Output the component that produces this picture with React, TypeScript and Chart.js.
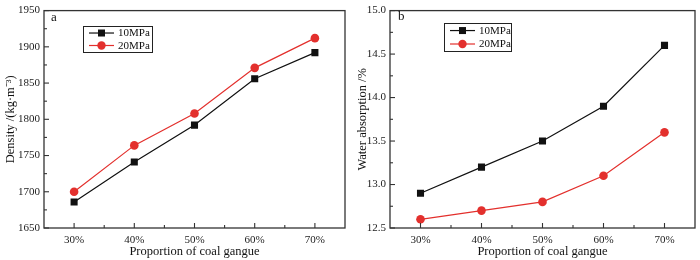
import React, { useEffect, useRef } from "react";
import { Chart, registerables } from "chart.js";

Chart.register(...registerables);

const categories = ["30%", "40%", "50%", "60%", "70%"];
const seriesNames = ["10MPa", "20MPa"];
const density10 = [1686, 1741, 1792, 1856, 1892];
const density20 = [1700, 1764, 1808, 1871, 1912];
const water10 = [12.9, 13.2, 13.5, 13.9, 14.6];
const water20 = [12.6, 12.7, 12.8, 13.1, 13.6];
const densityTicks = { min: 1650, max: 1950, step: 50 };
const waterTicks = { min: 12.5, max: 15.0, step: 0.5 };

const FONT = "'Liberation Serif', 'Times New Roman', serif";
const BLACK = "#111111";
const RED = "#e3302d";
const AXIS = "#333333";

type PanelCfg = {
  label: string;
  yTitle: string;
  a: number[];
  b: number[];
  ticks: { min: number; max: number; step: number };
  decimals: number;
  padRight: number;
  yWidth: number;
  titlePad: number;
  legend: { x: number; y: number; w: number; h: number };
  labelPos: { x: number; y: number };
};

function makeFramePlugin(cfg: PanelCfg) {
  return {
    id: "frame_" + cfg.label,
    afterDraw(chart: any) {
      const ctx = chart.ctx as CanvasRenderingContext2D;
      const ca = chart.chartArea;
      const xs = chart.scales.x;
      const ys = chart.scales.y;
      ctx.save();
      ctx.strokeStyle = AXIS;
      ctx.lineWidth = 1.3;
      ctx.strokeRect(ca.left, ca.top, ca.right - ca.left, ca.bottom - ca.top);
      ctx.lineWidth = 1.1;
      const n = categories.length;
      for (let i = 0; i < n; i++) {
        const x = xs.getPixelForValue(i);
        ctx.beginPath();
        ctx.moveTo(x, ca.bottom);
        ctx.lineTo(x, ca.bottom - 5);
        ctx.stroke();
        if (i < n - 1) {
          const xm = (x + xs.getPixelForValue(i + 1)) / 2;
          ctx.beginPath();
          ctx.moveTo(xm, ca.bottom);
          ctx.lineTo(xm, ca.bottom - 3);
          ctx.stroke();
        }
      }
      const { min, max, step } = cfg.ticks;
      const half = step / 2;
      const count = Math.round((max - min) / half);
      for (let k = 0; k <= count; k++) {
        const v = min + k * half;
        const y = ys.getPixelForValue(v);
        const len = k % 2 === 0 ? 5 : 3;
        ctx.beginPath();
        ctx.moveTo(ca.left, y);
        ctx.lineTo(ca.left + len, y);
        ctx.stroke();
      }
      ctx.fillStyle = "#111";
      ctx.font = `13px ${FONT}`;
      ctx.textBaseline = "middle";
      ctx.textAlign = "left";
      ctx.fillText(cfg.label, cfg.labelPos.x, cfg.labelPos.y);
      const L = cfg.legend;
      ctx.strokeStyle = "#222";
      ctx.lineWidth = 1;
      ctx.strokeRect(L.x + 0.5, L.y + 0.5, L.w, L.h);
      const rows = [
        { name: seriesNames[0], color: BLACK, shape: "rect" },
        { name: seriesNames[1], color: RED, shape: "circle" },
      ];
      rows.forEach((r, i) => {
        const cy = L.y + L.h * (i === 0 ? 0.27 : 0.75);
        const x0 = L.x + 6;
        const x1 = L.x + 31;
        ctx.strokeStyle = r.color;
        ctx.lineWidth = 1.2;
        ctx.beginPath();
        ctx.moveTo(x0, cy);
        ctx.lineTo(x1, cy);
        ctx.stroke();
        ctx.fillStyle = r.color;
        const cx = (x0 + x1) / 2;
        if (r.shape === "rect") {
          ctx.fillRect(cx - 3.5, cy - 3.5, 7, 7);
        } else {
          ctx.beginPath();
          ctx.arc(cx, cy, 4.2, 0, Math.PI * 2);
          ctx.fill();
        }
        ctx.fillStyle = "#111";
        ctx.font = `11px ${FONT}`;
        ctx.textBaseline = "middle";
        ctx.fillText(r.name, x1 + 4, cy + 0.5);
      });
      ctx.restore();
    },
  };
}

function Panel({ cfg }: { cfg: PanelCfg }) {
  const ref = useRef<HTMLCanvasElement | null>(null);
  useEffect(() => {
    if (!ref.current) return;
    const chart = new Chart(ref.current, {
      type: "line",
      data: {
        labels: categories,
        datasets: [
          {
            label: seriesNames[0],
            data: cfg.a,
            borderColor: BLACK,
            backgroundColor: BLACK,
            borderWidth: 1.2,
            pointStyle: "rect",
            pointRadius: 5,
            pointBorderWidth: 0,
            tension: 0,
          },
          {
            label: seriesNames[1],
            data: cfg.b,
            borderColor: RED,
            backgroundColor: RED,
            borderWidth: 1.2,
            pointStyle: "circle",
            pointRadius: 4.3,
            pointBorderWidth: 0,
            tension: 0,
          },
        ],
      },
      options: {
        animation: false,
        responsive: false,
        maintainAspectRatio: false,
        devicePixelRatio: 1,
        layout: { padding: { left: 0, right: cfg.padRight, top: 6, bottom: 0 } },
        plugins: { legend: { display: false }, tooltip: { enabled: false } },
        scales: {
          x: {
            type: "category",
            offset: true,
            grid: { display: false, drawTicks: false },
            border: { display: false },
            ticks: { color: "#222", font: { family: FONT, size: 11 }, padding: 6, maxRotation: 0 },
            title: {
              display: true,
              text: "Proportion of coal gangue",
              color: "#111",
              font: { family: FONT, size: 12.5 },
              padding: { top: 0, bottom: 1 },
            },
            afterFit: (s: any) => {
              s.height = 32;
            },
          },
          y: {
            min: cfg.ticks.min,
            max: cfg.ticks.max,
            grid: { display: false, drawTicks: false },
            border: { display: false },
            ticks: {
              stepSize: cfg.ticks.step,
              color: "#222",
              font: { family: FONT, size: 11 },
              padding: 4,
              callback: (v: any) => Number(v).toFixed(cfg.decimals),
            },
            title: {
              display: true,
              text: cfg.yTitle,
              color: "#111",
              font: { family: FONT, size: 12.5 },
              padding: { top: cfg.titlePad, bottom: 0 },
            },
            afterFit: (s: any) => {
              s.width = cfg.yWidth;
            },
          },
        },
      },
      plugins: [makeFramePlugin(cfg)],
    } as any);
    return () => chart.destroy();
  }, [cfg]);
  return <canvas ref={ref} width={350} height={260} style={{ display: "block", width: 350, height: 260 }} />;
}

const leftCfg: PanelCfg = {
  label: "a",
  yTitle: "Density /(kg·m⁻³)",
  a: density10,
  b: density20,
  ticks: densityTicks,
  decimals: 0,
  padRight: 2,
  yWidth: 44,
  titlePad: 3,
  legend: { x: 83, y: 26, w: 69, h: 26 },
  labelPos: { x: 51, y: 18 },
};

const rightCfg: PanelCfg = {
  label: "b",
  yTitle: "Water absorption /%",
  a: water10,
  b: water20,
  ticks: waterTicks,
  decimals: 1,
  padRight: 3,
  yWidth: 40,
  titlePad: 5,
  legend: { x: 94, y: 23, w: 67, h: 28 },
  labelPos: { x: 48, y: 17 },
};

export default function App() {
  return (
    <div style={{ position: "fixed", left: 0, top: 0, width: 700, height: 260, background: "#fff", display: "flex" }}>
      <Panel cfg={leftCfg} />
      <Panel cfg={rightCfg} />
    </div>
  );
}
